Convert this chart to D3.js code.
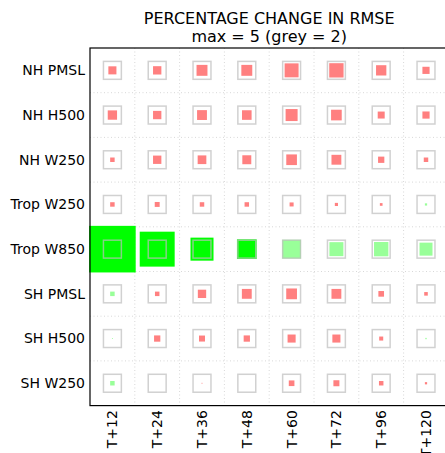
<!DOCTYPE html>
<html>
<head>
<meta charset="utf-8">
<script src="https://cdn.jsdelivr.net/npm/d3@7"></script>
<style>
    body { margin: 0; background: #fff; }
    text { font-family: "DejaVu Sans", sans-serif; fill: #000; }
</style>
</head>
<body>
<svg id="chart" width="445" height="453"></svg>
<script>
/**
 * Data.
 */
const rows = ['NH PMSL', 'NH H500', 'NH W250', 'Trop W250', 'Trop W850', 'SH PMSL', 'SH H500', 'SH W250'];
const columns = ['T+12', 'T+24', 'T+36', 'T+48', 'T+60', 'T+72', 'T+96', 'T+120'];

// Percentage change in RMSE, one array per row (negative = improvement)
const nhPmsl = [0.9, 0.93, 1.22, 1.22, 1.56, 1.6, 1.15, 0.8];
const nhH500 = [1.04, 0.93, 1.1, 1.07, 1.34, 1.19, 0.78, 0.8];
const nhW250 = [0.5, 0.93, 0.97, 1.0, 1.19, 1.1, 0.7, 0.5];
const tropW250 = [0.5, 0.55, 0.5, 0.5, 0.45, 0.35, 0.3, -0.25];
const tropW850 = [-5.2, -3.9, -2.57, -2.2, -2.1, -1.56, -1.6, -1.45];
const shPmsl = [-0.5, 0.5, 0.93, 1.1, 1.2, 1.1, 0.63, 0.4];
const shH500 = [-0.1, 0.7, 0.67, 0.7, 0.9, 0.9, 0.45, -0.15];
const shW250 = [-0.5, 0, 0.1, 0, 0.63, 0.67, 0.5, 0.25];
const values = [nhPmsl, nhH500, nhW250, tropW250, tropW850, shPmsl, shH500, shW250];

// Cells drawn in the strong colour
const strong = [['Trop W850', 'T+12'], ['Trop W850', 'T+24'], ['Trop W850', 'T+36'], ['Trop W850', 'T+48']];

const maxValue = 5, greyValue = 2;

/**
 * Visual configs.
 */
const margin = { top: 48, left: 90 },
    plotWidth = 358.4, plotHeight = 357.6;

const svg = d3.select('#chart');

const xScale = d3.scaleBand().domain(columns).range([margin.left, margin.left + plotWidth]);
const yScale = d3.scaleBand().domain(rows).range([margin.top, margin.top + plotHeight]);
const sizeScale = d3.scaleLinear().domain([0, maxValue]).range([0, xScale.bandwidth()]);

const cells = [];
rows.forEach((r, i) => {
    columns.forEach((c, j) => {
        const v = values[i][j];
        const isStrong = strong.some(s => s[0] === r && s[1] === c);
        cells.push({ row: r, col: c, value: v, strong: isStrong });
    });
});

function cellColor(d) {
    if (d.value >= 0) return d.strong ? '#ff0000' : '#ff8080';
    return d.strong ? '#00ff00' : '#99ff99';
}

/**
 * Title.
 */
const cx = margin.left + plotWidth / 2;
svg.append('text').attr('x', cx).attr('y', 24).attr('text-anchor', 'middle')
    .style('font-size', '16px').text('PERCENTAGE CHANGE IN RMSE');
svg.append('text').attr('x', cx).attr('y', 42).attr('text-anchor', 'middle')
    .style('font-size', '16px').text('max = ' + maxValue + ' (grey = ' + greyValue + ')');

/**
 * Dotted grid at cell boundaries.
 */
const grid = svg.append('g').attr('class', 'grid')
    .attr('stroke', '#d8d8d8').attr('stroke-width', 1).attr('stroke-dasharray', '1,2.5');

grid.selectAll('.vline').data(columns.slice(1)).enter().append('line')
    .attr('x1', d => xScale(d)).attr('x2', d => xScale(d))
    .attr('y1', margin.top).attr('y2', margin.top + plotHeight);

grid.selectAll('.hline').data(rows.slice(1)).enter().append('line')
    .attr('x1', margin.left).attr('x2', margin.left + plotWidth)
    .attr('y1', d => yScale(d)).attr('y2', d => yScale(d));

/**
 * Coloured squares.
 */
const centerX = d => xScale(d.col) + xScale.bandwidth() / 2,
    centerY = d => yScale(d.row) + yScale.bandwidth() / 2;

svg.append('g').attr('class', 'marks')
    .selectAll('rect').data(cells.filter(d => d.value !== 0)).enter().append('rect')
    .attr('x', d => centerX(d) - sizeScale(Math.abs(d.value)) / 2)
    .attr('y', d => centerY(d) - sizeScale(Math.abs(d.value)) / 2)
    .attr('width', d => sizeScale(Math.abs(d.value)))
    .attr('height', d => sizeScale(Math.abs(d.value)))
    .attr('fill', cellColor);

/**
 * Grey reference squares.
 */
const g = sizeScale(greyValue);
svg.append('g').attr('class', 'reference')
    .selectAll('rect').data(cells).enter().append('rect')
    .attr('x', d => centerX(d) - g / 2)
    .attr('y', d => centerY(d) - g / 2)
    .attr('width', g).attr('height', g)
    .attr('fill', 'none')
    .attr('stroke', '#bdbdbd').attr('stroke-opacity', 0.7).attr('stroke-width', 1.5);

/**
 * Frame.
 */
svg.append('rect')
    .attr('x', margin.left).attr('y', margin.top)
    .attr('width', plotWidth).attr('height', plotHeight)
    .attr('fill', 'none').attr('stroke', '#000').attr('stroke-width', 1.2);

/**
 * Axis labels.
 */
svg.append('g').selectAll('text').data(rows).enter().append('text')
    .attr('x', margin.left - 5)
    .attr('y', d => yScale(d) + yScale.bandwidth() / 2)
    .attr('dy', '0.35em').attr('text-anchor', 'end')
    .style('font-size', '14px').text(d => d);

svg.append('g').selectAll('text').data(columns).enter().append('text')
    .attr('transform', d => 'translate(' + (xScale(d) + xScale.bandwidth() / 2) + ',' + (margin.top + plotHeight + 4.5) + ') rotate(-90)')
    .attr('dy', '0.35em').attr('text-anchor', 'end')
    .style('font-size', '14px').text(d => d);
</script>
</body>
</html>
